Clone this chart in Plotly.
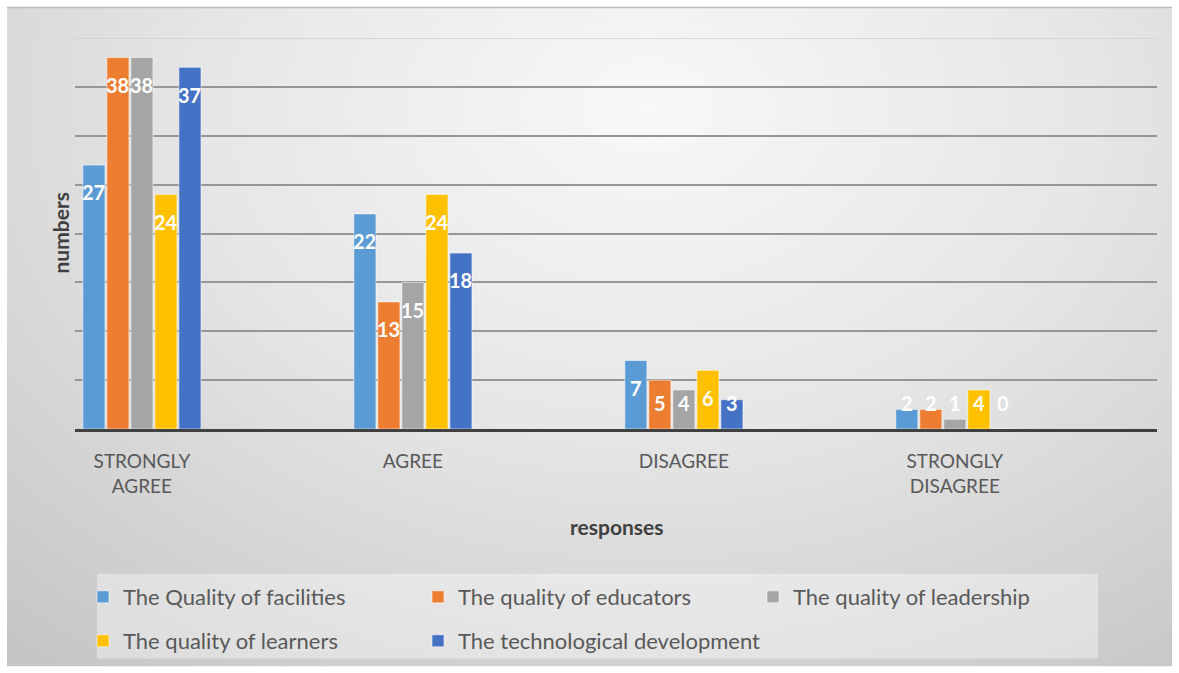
import base64
import plotly.graph_objects as go

# Survey responses per factor
categories = ["STRONGLY AGREE", "AGREE", "DISAGREE", "STRONGLY DISAGREE"]
tick_labels = ["STRONGLY<br>AGREE", "AGREE", "DISAGREE", "STRONGLY<br>DISAGREE"]

facilities = [27, 22, 7, 2]
educators = [38, 13, 5, 2]
leadership = [38, 15, 4, 1]
learners = [24, 24, 6, 4]
technology = [37, 18, 3, 0]

series_names = [
    "The Quality of facilities",
    "The quality of educators",
    "The quality of leadership",
    "The quality of learners",
    "The technological development",
]
series_values = [facilities, educators, leadership, learners, technology]
series_colors = ["#5B9BD5", "#ED7D31", "#A5A5A5", "#FFC000", "#4472C4"]
series_legends = ["legend", "legend", "legend", "legend2", "legend3"]

FONT = "Lato"
BARGAP = 0.557
W, H = 1179, 673
ML, MR, MT, MB = 75, 22, 38, 243
PW, PH = W - ML - MR, H - MT - MB


def px_x(px):
    return (px - ML) / PW


def px_y(py):
    return (H - MB - py) / PH


# soft radial backdrop behind the chart
svg = """<svg xmlns='http://www.w3.org/2000/svg' width='1165' height='661' viewBox='0 0 1165 661' preserveAspectRatio='none'>
<defs><radialGradient id='g' cx='0.55' cy='0.15' r='0.85' gradientTransform='translate(0.55 0.15) scale(1 1.3) translate(-0.55 -0.15)'>
<stop offset='0' stop-color='#f8f8f8'/><stop offset='0.45' stop-color='#e6e6e6'/><stop offset='1' stop-color='#c4c4c4'/>
</radialGradient></defs><rect width='1165' height='661' fill='url(#g)'/></svg>"""
bg_src = "data:image/svg+xml;base64," + base64.b64encode(svg.encode()).decode()

fig = go.Figure()
for name, vals, col, lg in zip(series_names, series_values, series_colors, series_legends):
    fig.add_trace(go.Bar(
        x=categories, y=vals, name=name,
        marker=dict(color=col, line=dict(color="rgba(255,255,255,0.55)", width=1)),
        legend=lg, hoverinfo="y+name",
    ))

# value labels placed near the top of each bar
n = len(series_values)
slot = (1 - BARGAP) / n
annotations = []
for k, vals in enumerate(series_values):
    for j, v in enumerate(vals):
        annotations.append(dict(
            x=j + (k - (n - 1) / 2) * slot, y=max(v - 2.8, 2.65),
            xref="x", yref="y", text=str(v), showarrow=False,
            font=dict(family=FONT, size=20, color="white", weight="bold"),
            xanchor="center", yanchor="middle",
        ))

annotations.append(dict(
    x=px_x(60), y=0.5, xref="paper", yref="paper", text="numbers", textangle=-90,
    xanchor="center", yanchor="middle",
    showarrow=False, font=dict(family=FONT, size=21, color="#404040", weight="bold"),
))
annotations.append(dict(
    x=0.5, y=px_y(528), xref="paper", yref="paper", text="responses",
    xanchor="center", yanchor="middle",
    showarrow=False, font=dict(family=FONT, size=21, color="#404040", weight="bold"),
))

shapes = [
    dict(type="line", xref="paper", yref="paper", x0=px_x(7), x1=px_x(1172),
         y0=px_y(7.5), y1=px_y(7.5), line=dict(color="#bdbdbd", width=1.5), layer="below"),
    dict(type="rect", xref="paper", yref="paper", x0=px_x(97), x1=px_x(1098),
         y0=px_y(660), y1=px_y(575), fillcolor="rgba(255,255,255,0.38)",
         line=dict(width=0), layer="below"),
    # faint top gridline at 40
    dict(type="line", xref="paper", yref="y", x0=0, x1=1, y0=40, y1=40,
         line=dict(color="#cfcfcf", width=1.5), layer="below"),
]

legend_style = dict(
    orientation="h", xanchor="left", yanchor="middle",
    bgcolor="rgba(0,0,0,0)", font=dict(family=FONT, size=22, color="#595959"),
    itemwidth=30, traceorder="normal",
)

fig.update_layout(
    width=W, height=H,
    margin=dict(l=ML, r=MR, t=MT, b=MB),
    paper_bgcolor="white", plot_bgcolor="rgba(0,0,0,0)",
    barmode="group", bargap=BARGAP, bargroupgap=0.08,
    font=dict(family=FONT, color="#595959"),
    images=[dict(source=bg_src, xref="paper", yref="paper", x=px_x(7), y=px_y(7),
                 sizex=px_x(1172) - px_x(7), sizey=px_y(7) - px_y(668),
                 xanchor="left", yanchor="top", sizing="stretch", layer="below")],
    xaxis=dict(
        range=[-0.247, 3.746], tickmode="array", tickvals=categories, ticktext=tick_labels,
        tickfont=dict(family=FONT, size=19, color="#595959"), ticks="",
        showline=True, linecolor="#404040", linewidth=3, showgrid=False,
        ticklabelstandoff=13,
    ),
    yaxis=dict(
        range=[0, 40], dtick=5, showticklabels=False, gridcolor="#969696", gridwidth=1.5,
        zeroline=False, showline=False,
    ),
    legend=dict(legend_style, entrywidth=290, x=px_x(83), y=px_y(597)),
    legend2=dict(legend_style, x=px_x(83), y=px_y(641)),
    legend3=dict(legend_style, x=px_x(418), y=px_y(641)),
    annotations=annotations,
    shapes=shapes,
    showlegend=True,
)

fig.write_html("out.html")
